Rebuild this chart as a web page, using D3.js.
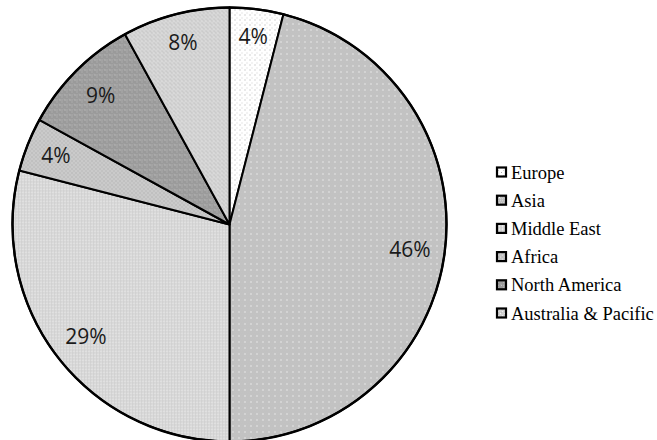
<!DOCTYPE html>
<html>
<head>
<meta charset="utf-8">
<script src="https://cdn.jsdelivr.net/npm/d3@7"></script>
<style>
  html, body { margin: 0; padding: 0; background: #fff; }
  svg { display: block; }
</style>
</head>
<body>
<svg id="chart" width="657" height="440"></svg>
<script>
// Regional shares (percent)
const regions = ["Europe", "Asia", "Middle East", "Africa", "North America", "Australia & Pacific"];
const shares  = [4, 46, 29, 4, 9, 8];

// Label placement: angle (degrees clockwise from 12 o'clock) where best-fit placement moved a label
const labelAngleOverride = [null, 98, 232, null, null, null];
const labelRadiusFrac    = [0.875, 0.84, 0.84, 0.86, 0.84, 0.865];

const W = 657, H = 440;
const cx = 229.5, cy = 224.5, R = 217;

const svg = d3.select("#chart");
const defs = svg.append("defs");

// Fine dot/grid textures, one per region
const textures = [
  { base: "#ffffff", cell: 5, dots: [[0, 0, "#a8a8a8"], [2, 3, "#d0d0d0"]] },
  { base: "#bcbcbc", cell: 6, dots: [[0, 0, "#d6d6d6"], [2, 0, "#d6d6d6"], [4, 0, "#d6d6d6"], [1, 2, "#d6d6d6"], [3, 2, "#d6d6d6"], [5, 2, "#d6d6d6"], [0, 4, "#d6d6d6"], [2, 4, "#d6d6d6"], [4, 4, "#d6d6d6"], [3, 3, "#ffffff"]] },
  { base: "#d4d4d4", cell: 3, dots: [[0, 0, "#f0f0f0"], [0, 1, "#e8e8e8"], [2, 2, "#c8c8c8"]] },
  { base: "#c2c2c2", cell: 4, dots: [[0, 0, "#e0e0e0"], [2, 2, "#e0e0e0"], [2, 0, "#b8b8b8"]] },
  { base: "#9a9a9a", cell: 5, dots: [[0, 0, "#cfcfcf"], [2, 2, "#b8b8b8"], [4, 4, "#a8a8a8"], [2, 0, "#bcbcbc"]] },
  { base: "#d0d0d0", cell: 4, dots: [[0, 0, "#f2f2f2"], [2, 2, "#ececec"], [1, 3, "#bcbcbc"]] }
];

textures.forEach((t, i) => {
  const p = defs.append("pattern")
    .attr("id", "tex" + i)
    .attr("patternUnits", "userSpaceOnUse")
    .attr("width", t.cell).attr("height", t.cell);
  p.append("rect").attr("width", t.cell).attr("height", t.cell).attr("fill", t.base);
  t.dots.forEach(d => {
    p.append("rect").attr("x", d[0]).attr("y", d[1]).attr("width", 1).attr("height", 1).attr("fill", d[2]);
  });
});

const data = regions.map((name, i) => ({ name, value: shares[i], idx: i }));

const pie = d3.pie().value(d => d.value).sort(null).startAngle(0).endAngle(2 * Math.PI);
const arc = d3.arc().innerRadius(0).outerRadius(R);
const arcs = pie(data);

const g = svg.append("g").attr("transform", `translate(${cx},${cy})`);

g.selectAll("path.slice")
  .data(arcs)
  .join("path")
  .attr("class", "slice")
  .attr("d", arc)
  .attr("fill", d => `url(#tex${d.data.idx})`)
  .attr("stroke", "#000")
  .attr("stroke-width", 2)
  .attr("stroke-linejoin", "round");

// Outer rim drawn a touch heavier
g.append("circle").attr("r", R).attr("fill", "none").attr("stroke", "#000").attr("stroke-width", 2.4);

// Percentage labels
g.selectAll("text.pct")
  .data(arcs)
  .join("text")
  .attr("class", "pct")
  .attr("transform", d => {
    const i = d.data.idx;
    const a = labelAngleOverride[i] != null ? labelAngleOverride[i] * Math.PI / 180 : (d.startAngle + d.endAngle) / 2;
    const r = labelRadiusFrac[i] * R;
    return `translate(${r * Math.sin(a)},${-r * Math.cos(a)})`;
  })
  .attr("text-anchor", "middle")
  .attr("dy", "0.36em")
  .style("font-family", "'Open Sans', 'DejaVu Sans', sans-serif")
  .style("font-size", "21px")
  .attr("fill", "#1a1a1a")
  .text(d => d.data.value + "%");

// Legend
const legendX = 496, legendY0 = 172, legendStep = 28.2;
const leg = svg.append("g");
const items = leg.selectAll("g.item")
  .data(data)
  .join("g")
  .attr("class", "item")
  .attr("transform", (d, i) => `translate(${legendX},${legendY0 + i * legendStep})`);

items.append("rect")
  .attr("x", 1).attr("y", -4.5)
  .attr("width", 9).attr("height", 9)
  .attr("fill", d => `url(#tex${d.idx})`)
  .attr("stroke", "#000")
  .attr("stroke-width", 2.2);

items.append("text")
  .attr("x", 15)
  .attr("dy", "0.36em")
  .style("font-family", "'Liberation Serif', 'Times New Roman', serif")
  .style("font-size", "18.5px")
  .attr("fill", "#000")
  .text(d => d.name);
</script>
</body>
</html>
